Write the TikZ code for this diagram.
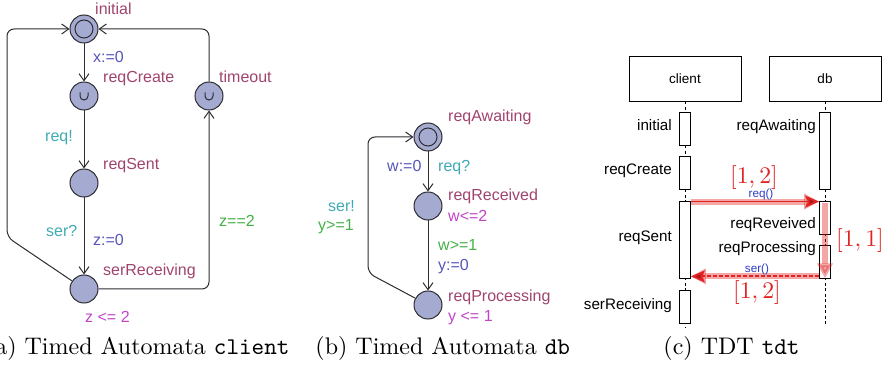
\documentclass[tikz,border=0pt]{standalone}
\usepackage{fontspec}
\newfontfamily\uf{Liberation Sans}
\usetikzlibrary{arrows.meta}
\definecolor{stfill}{RGB}{165,171,208}
\definecolor{stline}{RGB}{45,45,50}
\definecolor{locc}{RGB}{160,68,110}
\definecolor{asgc}{RGB}{85,85,187}
\definecolor{syncc}{RGB}{64,170,181}
\definecolor{guardc}{RGB}{69,176,69}
\definecolor{invc}{RGB}{192,69,200}
\definecolor{tdtred}{RGB}{225,35,35}
\definecolor{msgblue}{RGB}{45,60,200}
\begin{document}
\begin{tikzpicture}[x=1pt,y=-1pt,
  st/.style={circle,draw=stline,fill=stfill,line width=1pt,minimum size=28pt,inner sep=0pt},
  initst/.style={st,path picture={\draw[stline,line width=1pt] (path picture bounding box.center) circle (9pt);}},
  urg/.style={st,path picture={\draw[stline,line width=1pt] ([shift={(-4pt,3.5pt)}]path picture bounding box.center) -- ++(0pt,-3.5pt) arc[start angle=180,end angle=360,radius=4pt] -- ++(0pt,3.5pt);}},
  edge/.style={draw=stline,line width=1pt,-{Straight Barb[length=7pt,width=10pt]},rounded corners=7pt},
  lab/.style={anchor=base west,inner sep=0pt,font=\uf\fontsize{16}{16}\selectfont},
  tlab/.style={anchor=base east,inner sep=0pt,font=\uf\fontsize{15.2}{16}\selectfont},
  hdr/.style={draw,line width=0.8pt,minimum width=112pt,minimum height=45pt,inner sep=0pt,font=\uf\fontsize{13.5}{14}\selectfont},
  act/.style={draw,fill=white,line width=0.8pt,minimum width=11pt,inner sep=0pt},
  life/.style={line width=0.7pt,dash pattern=on 3pt off 2.5pt},
  msg/.style={anchor=base,inner sep=0pt,text=msgblue,font=\uf\fontsize{11.7}{12}\selectfont},
  rlab/.style={anchor=base,inner sep=0pt,text=tdtred,scale=2.38,font=\fontsize{10}{12}\selectfont},
  glow/.style={draw=tdtred,line width=6pt,opacity=0.4,-{Triangle[length=15pt,width=15pt]}},
  core/.style={draw=tdtred,line width=1.8pt,-{Stealth[length=14pt,width=12pt,inset=3pt,fill=tdtred!70!black]}},
  captxt/.style={inner sep=0pt,scale=2.4,font=\fontsize{10}{12}\selectfont}
]
\useasboundingbox (0,0) rectangle (887,366);

% ---------- (a) client ----------
\node[initst] (init) at (84,29) {};
\node[urg] (rc) at (84,96) {};
\node[st] (rs) at (84,183) {};
\node[st] (sr) at (84,289) {};
\node[urg] (to) at (209,96) {};
\draw[edge] (init) -- (rc);
\draw[edge] (rc) -- (rs);
\draw[edge] (rs) -- (sr);
\draw[edge] (sr) -- (209,289) -- (to);
\draw[edge] (to) -- (209,29) -- (init);
\draw[edge] (sr) -- (7,237) -- (7,29) -- (init);

\node[lab,text=locc] at (95,15) {initial};
\node[lab,text=asgc] at (93,63) {x:=0};
\node[lab,text=locc] at (103,83) {reqCreate};
\node[lab,text=locc] at (219,83) {timeout};
\node[lab,text=syncc] at (45,142) {req!};
\node[lab,text=locc] at (103,170) {reqSent};
\node[lab,text=syncc] at (46,237) {ser?};
\node[lab,text=asgc] at (93,246) {z:=0};
\node[lab,text=locc] at (103,276) {serReceiving};
\node[lab,text=guardc] at (219,227) {z==2};
\node[lab,text=invc] at (85,323) {z <= 2};
\node[captxt,anchor=base east] at (290,355) {(a) Timed Automata \texttt{client}};

% ---------- (b) db ----------
\node[initst] (ra) at (428,137) {};
\node[st] (rr) at (428,206) {};
\node[st] (rp) at (428,305) {};
\draw[edge] (ra) -- (rr);
\draw[edge] (rr) -- (rp);
\draw[edge] (rp) -- (368,273) -- (368,137) -- (ra);

\node[lab,text=locc] at (448,122) {reqAwaiting};
\node[lab,text=asgc] at (387,172) {w:=0};
\node[lab,text=syncc] at (438,172) {req?};
\node[lab,text=locc] at (448,201) {reqReceived};
\node[lab,text=invc] at (448,222) {w<=2};
\node[lab,text=syncc] at (328,212) {ser!};
\node[lab,text=guardc] at (318,231) {y>=1};
\node[lab,text=guardc] at (438,251) {w>=1};
\node[lab,text=asgc] at (438,271) {y:=0};
\node[lab,text=locc] at (448,302) {reqProcessing};
\node[lab,text=invc] at (448,322) {y <= 1};
\node[captxt,anchor=base west] at (315,355) {(b) Timed Automata \texttt{db}};

% ---------- (c) TDT ----------
\node[hdr] (cl) at (685,78.5) {client};
\node[hdr] (db) at (825,78.5) {db};
\coordinate (cend) at (685,328);
\coordinate (dend) at (825,326);
\draw[life] (cl.south) -- (cend);
\draw[life] (db.south) -- (dend);

\node[act,minimum height=33pt] (ci) at (685,128.5) {};
\node[act,minimum height=33pt] (cc) at (685,172.5) {};
\node[act,minimum height=77pt] (cs) at (685,239.5) {};
\node[act,minimum height=33pt] (cr) at (685,306.5) {};
\node[act,minimum height=77pt] (da) at (825,150.5) {};
\node[act,minimum height=33pt] (dr) at (825,217.5) {};
\node[act,minimum height=33pt] (dp) at (825,261.5) {};

\node[tlab] at (672,131) {initial};
\node[tlab] at (672,175) {reqCreate};
\node[tlab] at (672,242) {reqSent};
\node[tlab] at (672,309) {serReceiving};
\node[tlab] at (816,131) {reqAwaiting};
\node[tlab] at (816,229) {reqReveived};
\node[tlab] at (816,253) {reqProcessing};

% req() message
\coordinate (rq1) at ([yshift=-1pt]cs.north east);
\coordinate (rq2) at ([yshift=-1pt]dr.north west);
\draw[glow] (rq1) -- (rq2);
\draw[core] (rq1) -- (rq2);
\node[msg] at (761,198) {req()};
\node[rlab] at (754,184) {$[1,2]$};

% internal duration
\coordinate (v1) at ([yshift=-2pt]dr.north);
\coordinate (v2) at (dp.south);
\draw[glow] (v1) -- (v2);
\node[rlab] at (860,247) {$[1,1]$};

% ser() message
\coordinate (sv1) at ([yshift=2pt]dp.south west);
\coordinate (sv2) at ([yshift=2pt]cs.south east);
\draw[glow] (sv1) -- (sv2);
\draw[core,dash pattern=on 4pt off 2pt] (sv1) -- (sv2);
\node[msg] at (757,273) {ser()};
\node[rlab] at (757,298) {$[1,2]$};

\node[captxt,anchor=base west] at (663,355) {(c) TDT \texttt{tdt}};
\end{tikzpicture}
\end{document}
